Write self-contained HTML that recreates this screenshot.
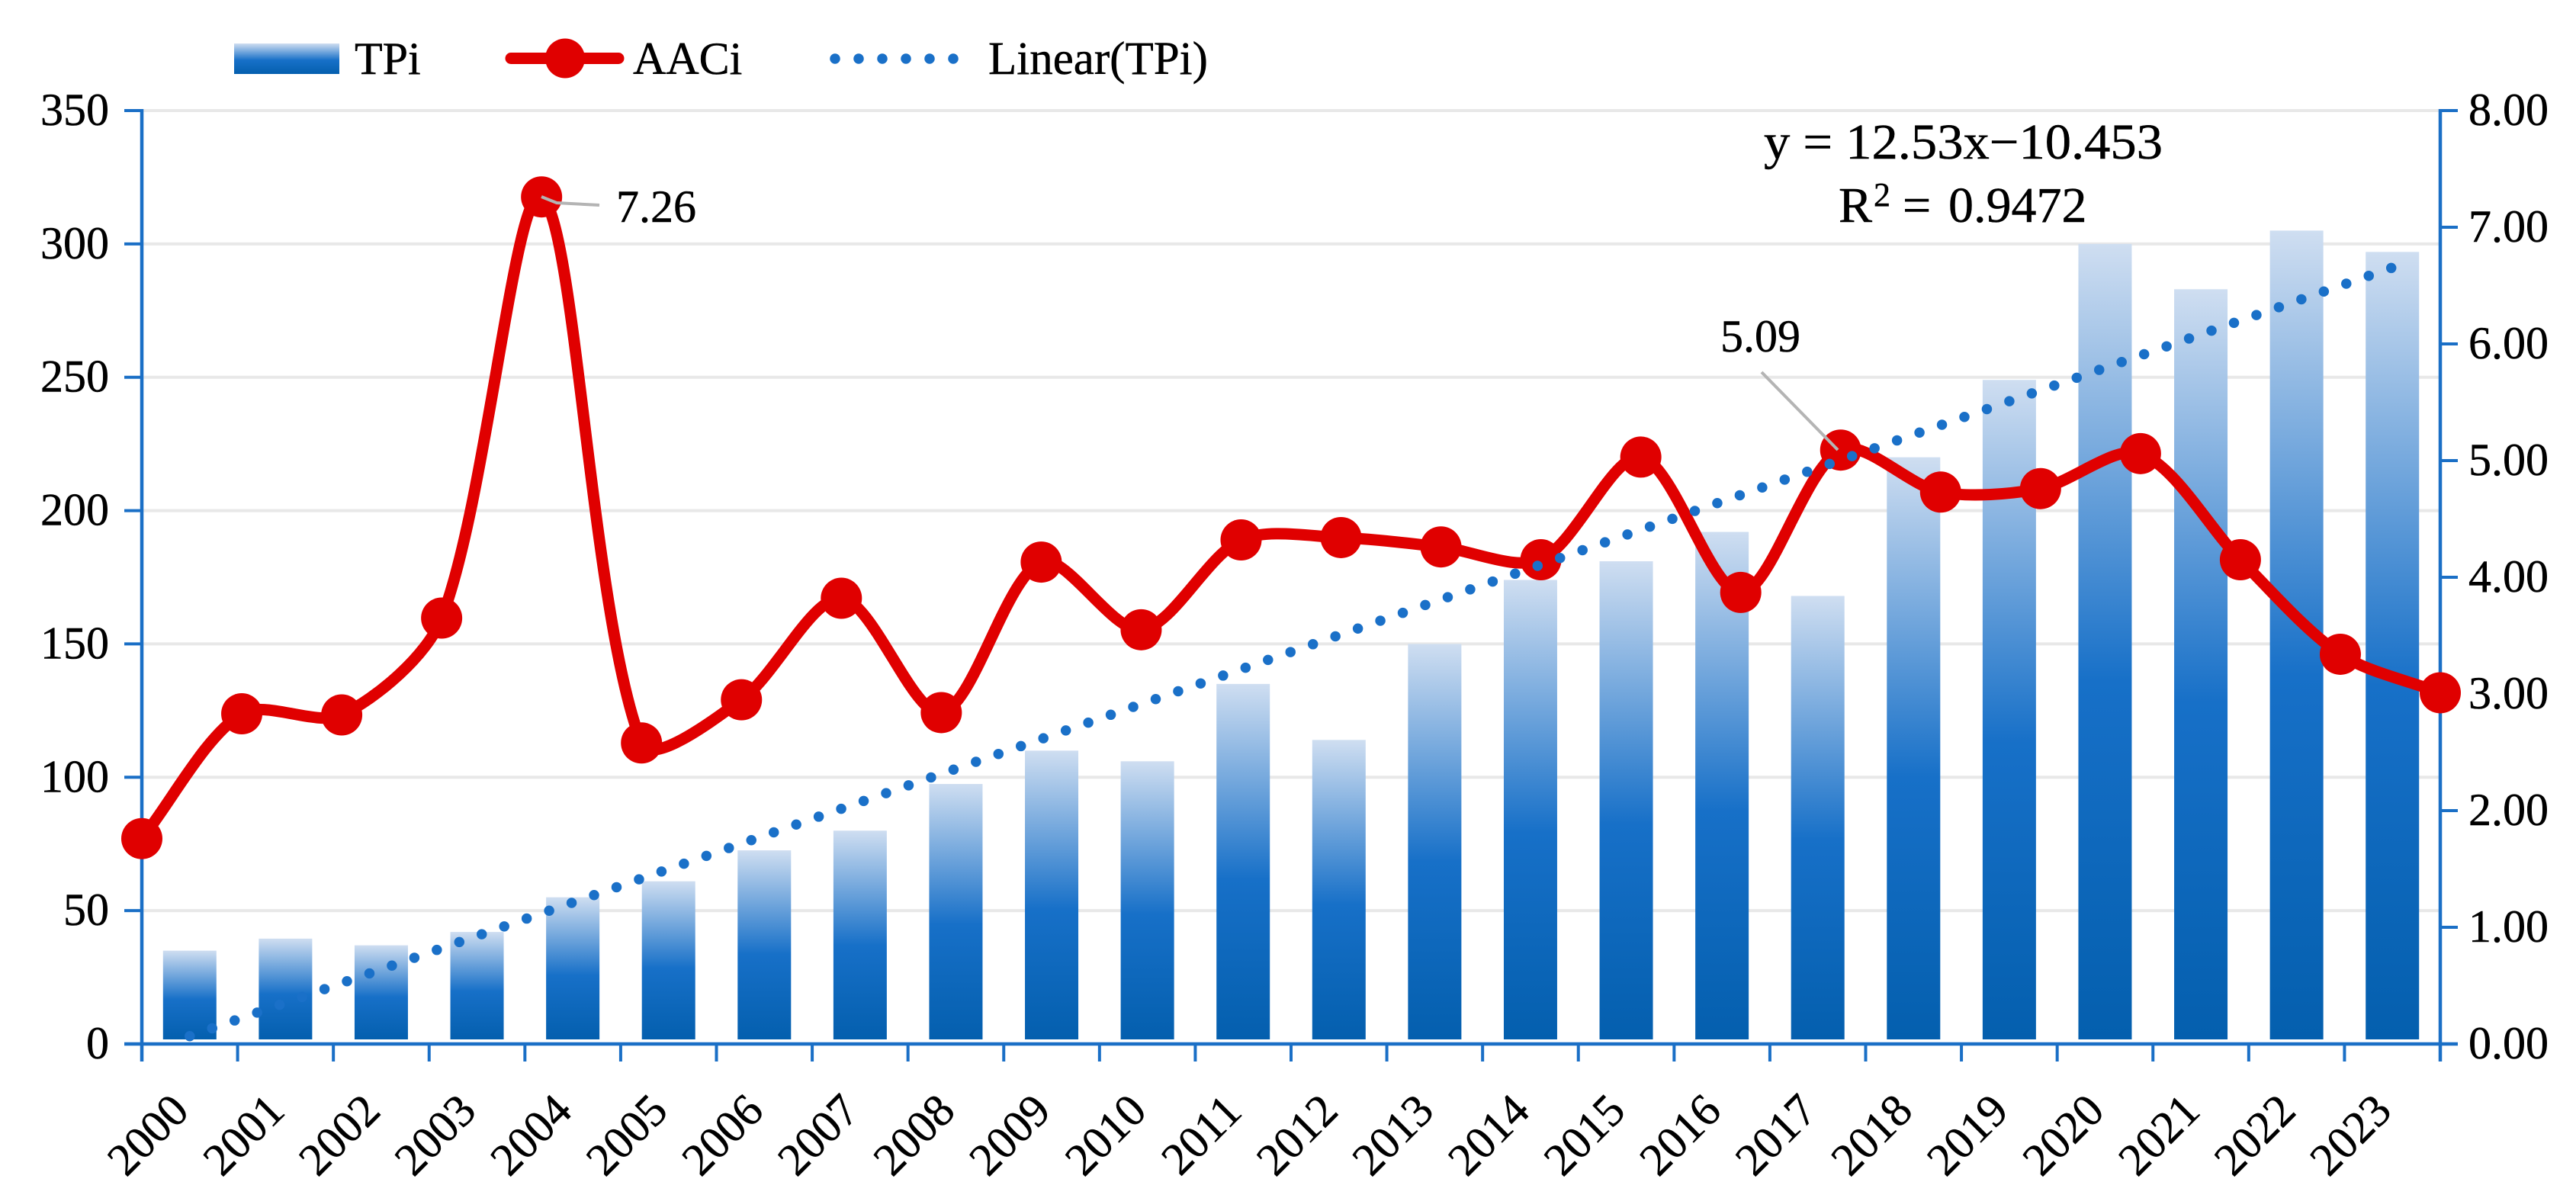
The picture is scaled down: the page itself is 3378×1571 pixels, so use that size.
<!DOCTYPE html>
<html>
<head>
<meta charset="utf-8">
<title>TPi and AACi chart</title>
<style>
html,body{margin:0;padding:0;background:#fff;}
svg{display:block;}
text{font-family:"Liberation Serif",serif;fill:#000;stroke:#000;stroke-width:0.5px;}
</style>
</head>
<body>
<svg id="chart" xmlns="http://www.w3.org/2000/svg" width="3378" height="1571" viewBox="0 0 3378 1571">
<defs>
<linearGradient id="barGrad" x1="0" y1="0" x2="0" y2="1">
<stop offset="0" stop-color="#cfdef1"/>
<stop offset="0.55" stop-color="#1770c8"/>
<stop offset="1" stop-color="#045fae"/>
</linearGradient>
</defs>
<rect x="0" y="0" width="3378" height="1571" fill="#ffffff"/>
<g id="grid"></g>
<g id="bars"></g>
<g id="axes"></g>
<g id="lineLayer"></g>
<g id="trendLayer"></g>
<g id="labels"></g>

<g>
  <rect x="307" y="57" width="138" height="40" fill="url(#barGrad)"/>
  <text x="465" y="97" font-size="60">TPi</text>
  <line x1="670" y1="76.5" x2="811" y2="76.5" stroke="#e00000" stroke-width="15" stroke-linecap="round"/>
  <circle cx="741" cy="76.5" r="26" fill="#e00000"/>
  <text x="830" y="97" font-size="60">AACi</text>
  <line x1="1095" y1="77" x2="1251" y2="77" stroke="#1a70c8" stroke-width="13.5" stroke-linecap="round" stroke-dasharray="0 31"/>
  <text x="1296" y="97" font-size="61">Linear(TPi)</text>
</g>

<g>
  <text x="2313" y="208" font-size="66" textLength="523" lengthAdjust="spacingAndGlyphs">y = 12.53x−10.453</text>
  <text y="291" font-size="66"><tspan x="2411">R</tspan><tspan x="2457" y="270" font-size="44">2</tspan><tspan x="2495" y="291">=</tspan><tspan x="2555" y="291">0.9472</tspan></text>
  <polyline points="710,258 730,266 786,269" fill="none" stroke="#b4b4b4" stroke-width="4"/>
  <text x="808" y="291" font-size="60">7.26</text>
  <line x1="2310" y1="488" x2="2410" y2="590" stroke="#b4b4b4" stroke-width="4"/>
  <text x="2256" y="461" font-size="60">5.09</text>
</g>
</svg>

<script>
// Chart data
const years = ["2000","2001","2002","2003","2004","2005","2006","2007","2008","2009","2010","2011","2012","2013","2014","2015","2016","2017","2018","2019","2020","2021","2022","2023"];
const tpiValues = [35,39.5,37,42,55,61,72.6,80,97.5,110,106,135,114,150,174,181,192,168,220,249,300,283,305,297];
const aaciValues = [1.76,2.83,2.82,3.65,7.26,2.58,2.95,3.82,2.84,4.13,3.55,4.32,4.34,4.26,4.15,5.03,3.87,5.09,4.73,4.76,5.06,4.15,3.34,3.01];
const leftTicks = [0,50,100,150,200,250,300,350];
const rightTicks = ["0.00","1.00","2.00","3.00","4.00","5.00","6.00","7.00","8.00"];
const trendSlope = 12.53;
const trendIntercept = -10.453;

// Layout
const plotL = 186, plotR = 3200, plotB = 1369, plotT = 145;
const SVGNS = "http://www.w3.org/2000/svg";
const yLeft = v => plotB - v * (plotB - plotT) / 350;
const yRight = v => plotB - v * (plotB - plotT) / 8;
const catStep = (plotR - plotL) / years.length;
const xBar = i => plotL + (i + 0.5) * catStep;
const lineStep = (plotR - plotL) / (years.length - 1);
const xLine = i => plotL + i * lineStep;

function mk(tag, attrs, parent) {
  const el = document.createElementNS(SVGNS, tag);
  for (const k in attrs) el.setAttribute(k, attrs[k]);
  parent.appendChild(el);
  return el;
}
const grid = document.getElementById("grid");
const bars = document.getElementById("bars");
const axes = document.getElementById("axes");
const lineLayer = document.getElementById("lineLayer");
const trendLayer = document.getElementById("trendLayer");
const labels = document.getElementById("labels");
const axisColor = "#1a6fc6";

// Gridlines, left axis ticks and labels
leftTicks.forEach(v => {
  const y = yLeft(v);
  if (v > 0) {
    const g = mk("line", {x1: plotL, y1: y, x2: plotR, y2: y, stroke: "#e8e8e8", "stroke-width": 4}, grid);
    
    
  }
  const t = mk("line", {x1: 163, y1: y, x2: plotL, y2: y, stroke: axisColor, "stroke-width": 4}, axes);
  
  
  const l = mk("text", {x: 143, y: y + 19, "text-anchor": "end", "font-size": 60}, labels);
  
  
  l.textContent = String(v);
});

// Right axis ticks and labels
rightTicks.forEach(s => {
  const y = yRight(parseFloat(s));
  const t = mk("line", {x1: plotR, y1: y, x2: 3223, y2: y, stroke: axisColor, "stroke-width": 4}, axes);
  
  
  const l = mk("text", {x: 3237, y: y + 19, "font-size": 60}, labels);
  
  
  l.textContent = s;
});

// Axis lines
const leftAxis = mk("line", {x1: plotL, y1: plotT - 2, x2: plotL, y2: 1392, stroke: axisColor, "stroke-width": 4.5}, axes);


const rightAxis = mk("line", {x1: plotR, y1: plotT - 2, x2: plotR, y2: 1392, stroke: axisColor, "stroke-width": 4.5}, axes);


const bottomAxis = mk("line", {x1: 163, y1: plotB, x2: 3223, y2: plotB, stroke: axisColor, "stroke-width": 4.5}, axes);



// Bars and category labels
years.forEach((yr, i) => {
  const cx = xBar(i);
  const top = yLeft(tpiValues[i]);
  const r = mk("rect", {x: cx - 35, y: top, width: 70, height: (plotB - 6) - top, fill: "url(#barGrad)"}, bars);
  
  
  if (i > 0) {
    const tx = plotL + i * catStep;
    const t = mk("line", {x1: tx, y1: plotB, x2: tx, y2: 1392, stroke: axisColor, "stroke-width": 4}, axes);
    
    
  }
  const l = mk("text", {transform: "translate(" + (cx - 55) + " 1488) rotate(-45)", x: 0, y: 20, "text-anchor": "middle", "font-size": 60}, labels);
  
  
  l.textContent = yr;
});

// Smoothed AACi line and markers (Catmull-Rom tangents split by neighbouring segment lengths)
const pts = aaciValues.map((v, i) => [xLine(i), yRight(v)]);
const smoothT = 0.15;
const segLen = i => (i < 0 || i >= pts.length - 1) ? 0 : Math.hypot(pts[i + 1][0] - pts[i][0], pts[i + 1][1] - pts[i][1]);
function handle(i, outgoing) {
  const a = pts[Math.max(i - 1, 0)], b = pts[Math.min(i + 1, pts.length - 1)];
  const lenIn = segLen(i - 1), lenOut = segLen(i);
  const side = outgoing ? lenOut : lenIn;
  const f = 2 * side / ((lenIn + lenOut) || 1);
  return [(b[0] - a[0]) * smoothT * f, (b[1] - a[1]) * smoothT * f];
}
let d = "M" + pts[0][0] + " " + pts[0][1];
for (let i = 0; i < pts.length - 1; i++) {
  const p1 = pts[i], p2 = pts[i + 1];
  const h1 = handle(i, true), h2 = handle(i + 1, false);
  d += " C" + (p1[0] + h1[0]) + " " + (p1[1] + h1[1]) + " " + (p2[0] - h2[0]) + " " + (p2[1] - h2[1]) + " " + p2[0] + " " + p2[1];
}
const aaciPath = mk("path", {d: d, fill: "none", stroke: "#e00000", "stroke-width": 15, "stroke-linejoin": "round"}, lineLayer);


pts.forEach((p, i) => {
  const c = mk("circle", {cx: p[0], cy: p[1], r: 27, fill: "#e00000"}, lineLayer);
  
  
});

// Linear trendline of TPi
const trendY = n => yLeft(trendSlope * n + trendIntercept) - 3;
const trend = mk("line", {x1: xBar(0), y1: trendY(1), x2: xBar(years.length - 1), y2: trendY(years.length), stroke: "#1a70c8", "stroke-width": 13.5, "stroke-linecap": "round", "stroke-dasharray": "0 31.2"}, trendLayer);


</script>
</body>
</html>
